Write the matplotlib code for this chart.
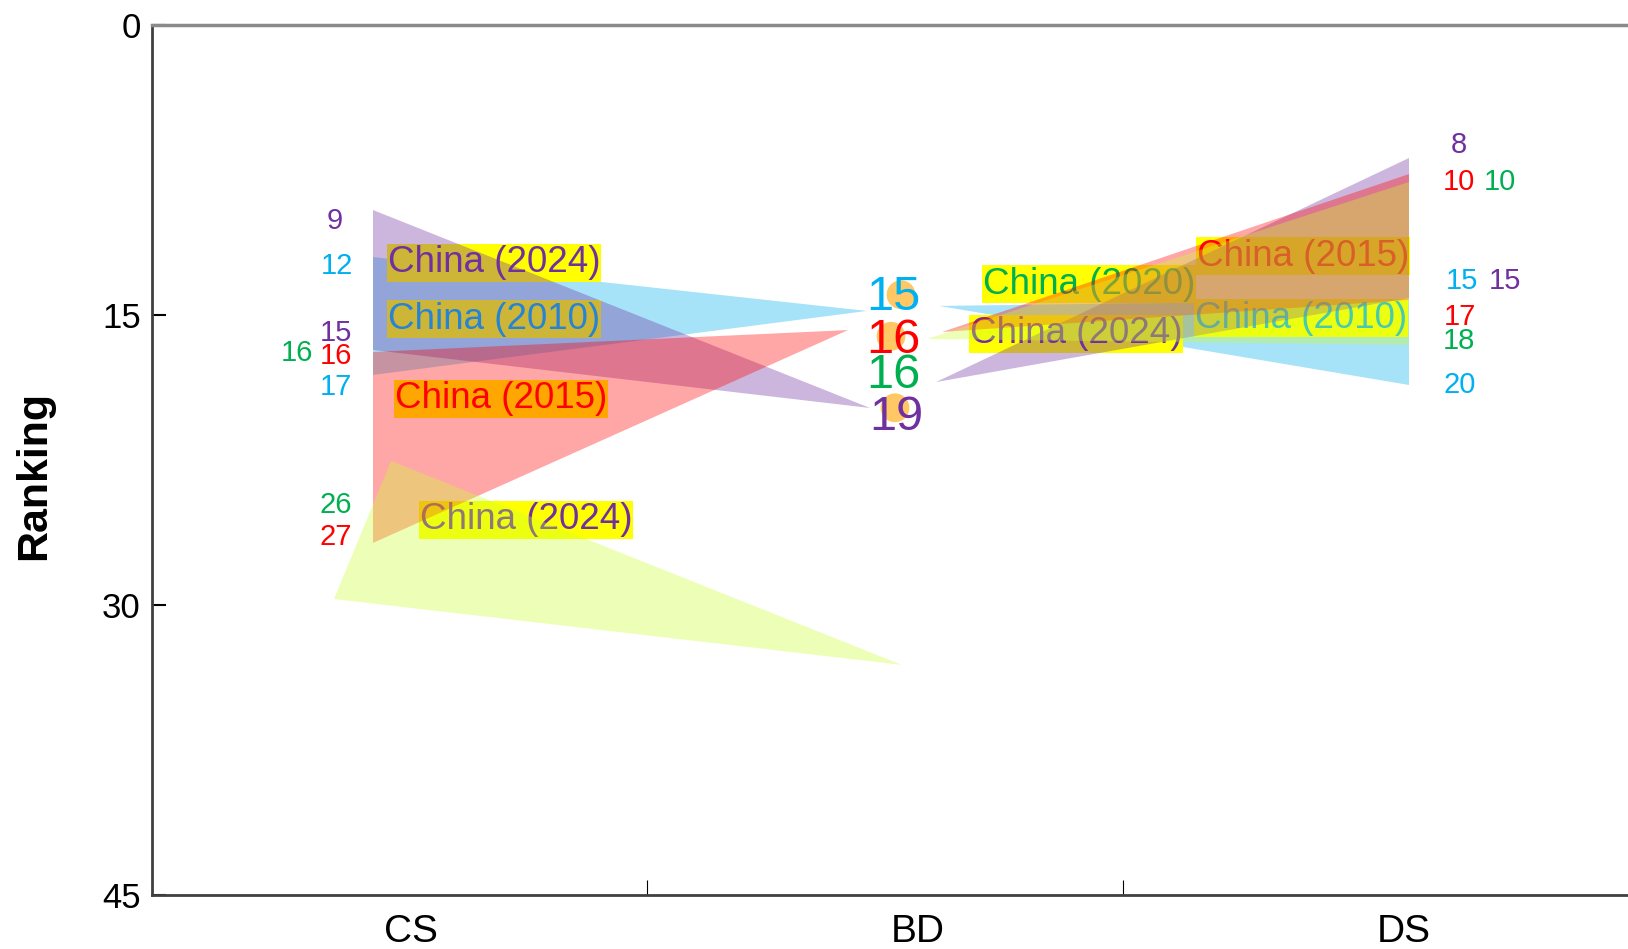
import matplotlib.pyplot as plt
from matplotlib.patches import Polygon

plt.rcParams['font.family'] = ['Liberation Sans', 'DejaVu Sans']

purple = '#7030A0'
blue = '#00B0F0'
red = '#FF0000'
green = '#00B050'
lime = '#CCFF33'

# axis
rank_ticks = [0, 15, 30, 45]
categories = ['CS', 'BD', 'DS']
cat_x = [411, 918, 1404]
sep_x = [647, 1123]

# ribbons CS -> BD, vertices as (x position, ranking)
cs_blue = [(373, 12.0), (373, 18.1), (867, 14.79)]
cs_purple = [(373, 9.57), (373, 16.81), (870, 19.81)]
cs_red = [(373, 16.91), (373, 26.79), (848, 15.78)]
cs_lime = [(391, 22.55), (334, 29.69), (902, 33.1)]

# ribbons BD -> DS
ds_blue = [(939, 14.53), (1409, 14.22), (1409, 18.62)]
ds_purple = [(936, 18.47), (1409, 6.88), (1409, 14.12)]
ds_red = [(942, 15.88), (1409, 7.71), (1409, 14.22)]
ds_lime = [(927, 16.24), (1409, 8.12), (1409, 16.55)]

# rank labels per column
cs_text = ['9', '12', '15', '16', '16', '17', '26', '27']
cs_col = [purple, blue, purple, red, green, blue, green, red]
cs_pos = [(335, 10.14), (337, 12.47), (336, 15.93), (336, 17.12), (297, 16.97),
          (336, 18.72), (336, 24.83), (336, 26.48)]

bd_text = ['15', '16', '16', '19']
bd_col = [blue, red, green, purple]
bd_pos = [(893, 14.08), (893, 16.3), (893, 18.12), (896, 20.28)]
bd_dots = [(901, 13.95), (891, 16.1), (895, 19.8)]

ds_text = ['8', '10', '10', '15', '15', '17', '18', '20']
ds_col = [purple, red, green, blue, purple, red, green, blue]
ds_pos = [(1459, 6.21), (1459, 8.12), (1500, 8.12), (1462, 13.24), (1505, 13.24),
          (1460, 15.1), (1459, 16.34), (1460, 18.62)]

# country tags
tag_text = ['China (2024)', 'China (2010)', 'China (2015)', 'China (2024)',
            'China (2020)', 'China (2024)', 'China (2015)', 'China (2010)']
tag_col = [purple, blue, red, purple, green, purple, red, blue]
tag_pos = [(494, 12.31), (494, 15.21), (501, 19.34), (526, 25.6),
           (1089, 13.4), (1076, 15.98), (1303, 11.95), (1301, 15.16)]

fig = plt.figure(figsize=(16.28, 9.49), dpi=100)
ax = fig.add_axes([152 / 1628, 54 / 949, 1476 / 1628, 870 / 949])

for pts in [cs_blue, ds_blue]:
    ax.add_patch(Polygon(pts, closed=True, fc=blue, ec='none', alpha=0.35, zorder=1))

for t, c, (x, y) in zip(tag_text, tag_col, tag_pos):
    ax.text(x, y, t, color=c, fontsize=26.5, ha='center', va='center', zorder=2,
            bbox=dict(boxstyle='square,pad=0.03', fc='yellow', ec='none'))

for pts, c in [(cs_purple, purple), (cs_red, red), (cs_lime, lime),
               (ds_purple, purple), (ds_red, red), (ds_lime, lime)]:
    ax.add_patch(Polygon(pts, closed=True, fc=c, ec='none', alpha=0.35, zorder=3))

for t, c, (x, y) in zip(cs_text + ds_text, cs_col + ds_col, cs_pos + ds_pos):
    ax.text(x, y, t, color=c, fontsize=21, ha='center', va='center', zorder=4)

ax.scatter([p[0] for p in bd_dots], [p[1] for p in bd_dots], s=430,
           color='#FFC864', edgecolors='none', zorder=4)
for t, c, (x, y) in zip(bd_text, bd_col, bd_pos):
    ax.text(x, y, t, color=c, fontsize=35, ha='center', va='center', zorder=5)

ax.set_xlim(152, 1628)
ax.set_ylim(45, 0)
ax.set_yticks(rank_ticks)
ax.set_xticks(sep_x)
ax.set_xticklabels([])
ax.set_xticks(cat_x, minor=True)
ax.set_xticklabels(categories, minor=True, fontsize=28)
ax.tick_params(axis='x', which='major', direction='in', length=11, width=0.8)
ax.tick_params(axis='x', which='minor', length=0, pad=14)
ax.tick_params(axis='y', direction='in', length=10, width=1.5, labelsize=25, pad=8)
ax.set_ylabel('Ranking', fontsize=31, fontweight='bold')
ax.yaxis.set_label_coords(-0.066, 0.482)

for s in ['left', 'bottom']:
    ax.spines[s].set_color('#404040')
    ax.spines[s].set_linewidth(2)
ax.spines['top'].set_color('#8a8a8a')
ax.spines['top'].set_linewidth(2.5)
ax.spines['right'].set_visible(False)

fig.savefig('out.png', dpi=100)
